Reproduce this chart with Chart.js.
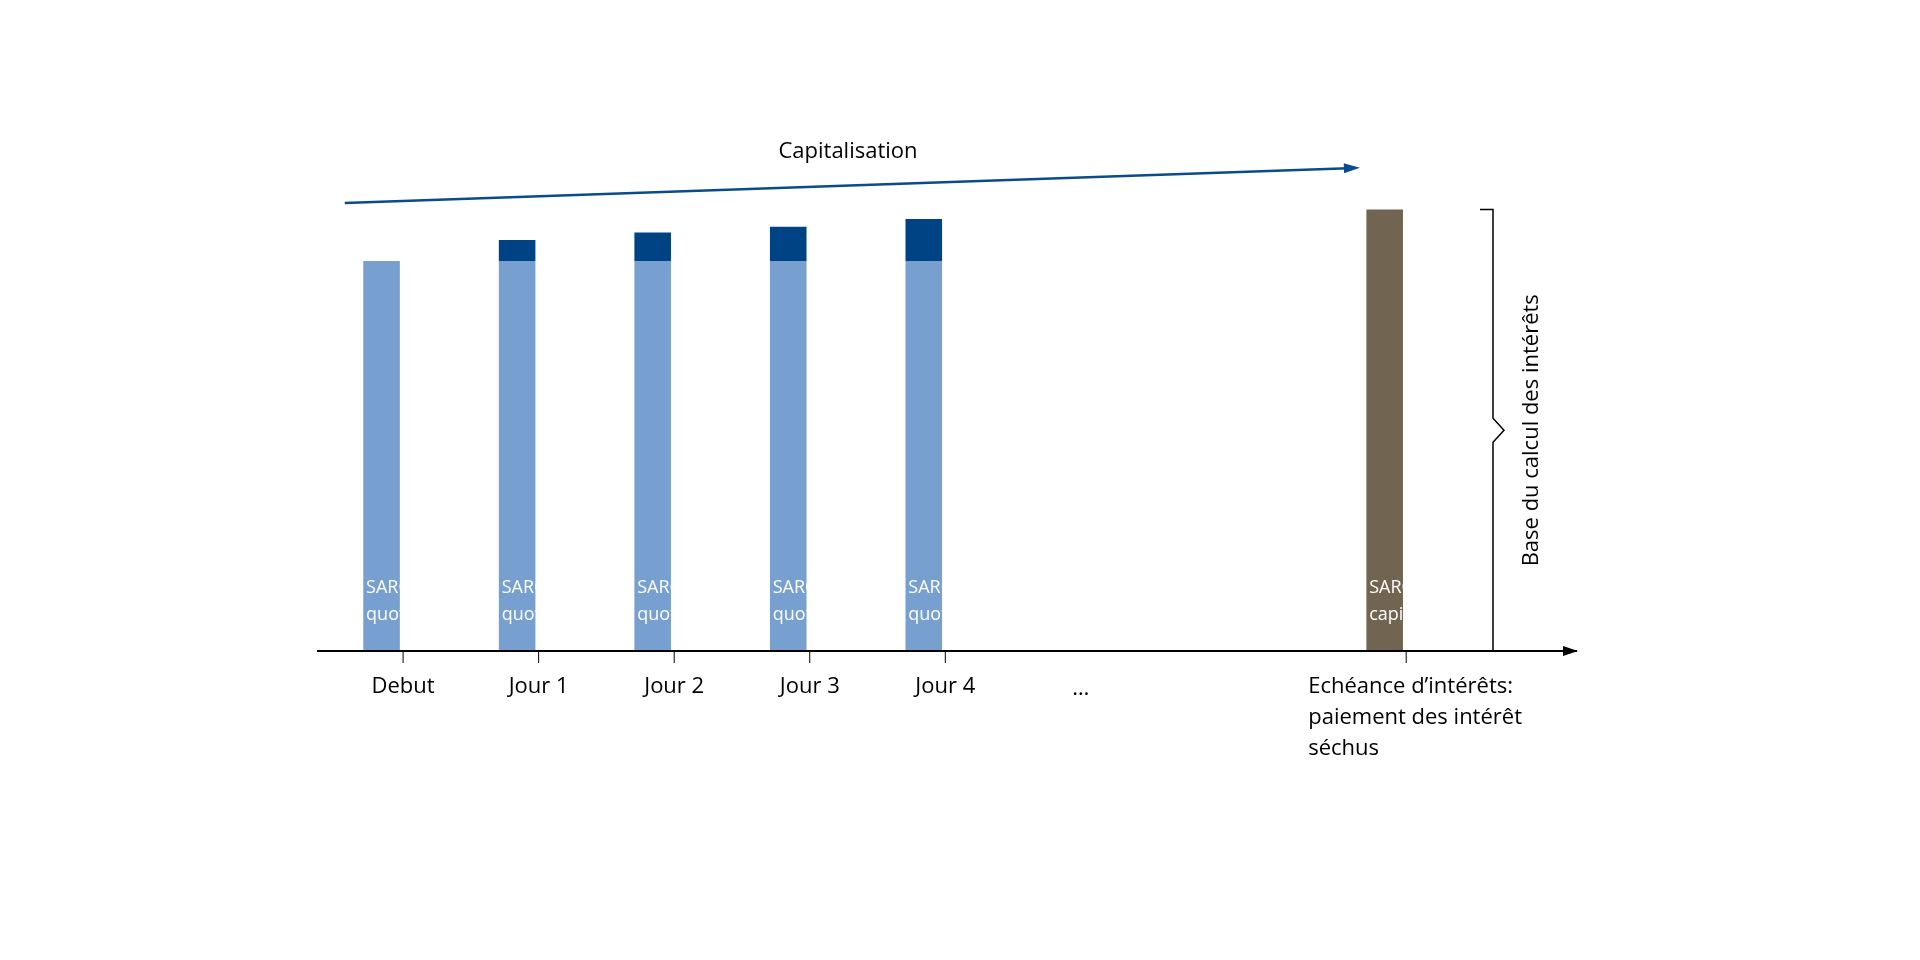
<!DOCTYPE html>
<html>
<head>
<meta charset="utf-8">
<script src="https://cdn.jsdelivr.net/npm/chart.js@4"></script>
<style>
  body { margin: 0; background: #fff; }
  #wrap { width: 1920px; height: 960px; }
</style>
</head>
<body>
<div id="wrap"><canvas id="c" width="1920" height="960"></canvas></div>
<script>
// category positions on the time axis (the last one sits after the gap)
var positions = [0, 1, 2, 3, 4, 7.4];
var tickLabels = ['Debut', 'Jour 1', 'Jour 2', 'Jour 3', 'Jour 4', 'Echéance d’intérêts:|paiement des intérêt|séchus'];
var dailyBase = [100, 100, 100, 100, 100];
var dailyInterest = [0, 5.4, 7.3, 8.8, 10.8];
var capitalised = [113.2];
var capArrow = [{ x: -0.43, y: 114.9 }, { x: 6.97, y: 123.8 }];
var barLabels = ['SARON|quotidien', 'SARON|quotidien', 'SARON|quotidien', 'SARON|quotidien', 'SARON|quotidien', 'SARON|capitalisé'];

var FONT = '"Open Sans", "Noto Sans", sans-serif';

var decorPlugin = {
  id: 'decor',
  afterDatasetsDraw: function(chart) {
    var ctx = chart.ctx;
    var xs = chart.scales.x, ys = chart.scales.y;
    var base = ys.getPixelForValue(0);
    ctx.save();

    // axis line with arrow
    ctx.strokeStyle = '#000';
    ctx.fillStyle = '#000';
    ctx.lineWidth = 2;
    ctx.beginPath();
    ctx.moveTo(chart.chartArea.left, base);
    ctx.lineTo(chart.chartArea.right, base);
    ctx.stroke();
    ctx.beginPath();
    ctx.moveTo(chart.chartArea.right + 1, base);
    ctx.lineTo(chart.chartArea.right - 14, base - 5);
    ctx.lineTo(chart.chartArea.right - 14, base + 5);
    ctx.closePath();
    ctx.fill();

    // ticks and labels
    ctx.lineWidth = 1;
    ctx.font = '22px ' + FONT;
    ctx.textBaseline = 'middle';
    for (var i = 0; i < positions.length; i++) {
      var px = xs.getPixelForValue(positions[i]);
      ctx.beginPath();
      ctx.moveTo(px, base);
      ctx.lineTo(px, base + 12);
      ctx.stroke();
      var lines = tickLabels[i].split('|');
      if (lines.length > 1) {
        ctx.textAlign = 'left';
        for (var j = 0; j < lines.length; j++) ctx.fillText(lines[j], px - 98, 687 + j * 31);
      } else {
        ctx.textAlign = 'center';
        ctx.fillText(lines[0], px, 687);
      }
    }
    ctx.textAlign = 'center';
    ctx.fillText('…', xs.getPixelForValue(5), 689);

    // white labels inside bars
    ctx.fillStyle = '#fff';
    ctx.font = '18px ' + FONT;
    ctx.textAlign = 'left';
    for (var k = 0; k < positions.length; k++) {
      var bx = xs.getPixelForValue(positions[k]) - 57 + 20;
      var bl = barLabels[k].split('|');
      ctx.fillText(bl[0], bx, 588);
      ctx.fillText(bl[1], bx, 615);
    }

    // arrow head for capitalisation line
    var a0 = capArrow[0], a1 = capArrow[1];
    var x0 = xs.getPixelForValue(a0.x), y0 = ys.getPixelForValue(a0.y);
    var x1 = xs.getPixelForValue(a1.x), y1 = ys.getPixelForValue(a1.y);
    var ang = Math.atan2(y1 - y0, x1 - x0);
    ctx.fillStyle = '#0B4A8B';
    ctx.beginPath();
    ctx.moveTo(x1 + 12 * Math.cos(ang), y1 + 12 * Math.sin(ang));
    ctx.lineTo(x1 - 4 * Math.cos(ang) + 5 * Math.sin(ang), y1 - 4 * Math.sin(ang) - 5 * Math.cos(ang));
    ctx.lineTo(x1 - 4 * Math.cos(ang) - 5 * Math.sin(ang), y1 - 4 * Math.sin(ang) + 5 * Math.cos(ang));
    ctx.closePath();
    ctx.fill();
    ctx.fillStyle = '#000';
    ctx.font = '22px ' + FONT;
    ctx.textAlign = 'center';
    ctx.fillText('Capitalisation', 848, 152);

    // brace for the capitalised bar
    var top = ys.getPixelForValue(capitalised[0]);
    var bxr = 1493, mid = (top + base) / 2;
    ctx.strokeStyle = '#000';
    ctx.lineWidth = 1.5;
    ctx.beginPath();
    ctx.moveTo(1480, top);
    ctx.lineTo(bxr, top);
    ctx.lineTo(bxr, mid - 12);
    ctx.lineTo(bxr + 11, mid);
    ctx.lineTo(bxr, mid + 12);
    ctx.lineTo(bxr, base);
    ctx.stroke();
    ctx.translate(1532, mid);
    ctx.rotate(-Math.PI / 2);
    ctx.fillText('Base du calcul des intérêts', 0, 0);
    ctx.restore();
  }
};

new Chart(document.getElementById('c').getContext('2d'), {
  data: {
    datasets: [
      {
        type: 'bar', label: 'SARON quotidien', stack: 'a',
        data: dailyBase.map(function(v, i) { return { x: positions[i], y: v }; }),
        backgroundColor: '#779FCF', barPercentage: 0.85, categoryPercentage: 1
      },
      {
        type: 'bar', label: 'Intérêts', stack: 'a',
        data: dailyInterest.map(function(v, i) { return { x: positions[i], y: v }; }),
        backgroundColor: '#004384', barPercentage: 0.85, categoryPercentage: 1
      },
      {
        type: 'bar', label: 'SARON capitalisé', stack: 'a',
        data: capitalised.map(function(v) { return { x: positions[5], y: v }; }),
        backgroundColor: '#716450', barPercentage: 0.85, categoryPercentage: 1
      },
      {
        type: 'line', label: 'Capitalisation', stack: 'line', xAxisID: 'x2',
        data: capArrow, borderColor: '#0B4A8B', borderWidth: 2.5,
        pointRadius: 0, fill: false
      }
    ]
  },
  options: {
    responsive: false,
    animation: false,
    layout: { padding: { left: 317, right: 343, top: 105, bottom: 309 } },
    plugins: { legend: { display: false }, tooltip: { enabled: false } },
    scales: {
      x: { type: 'linear', min: -0.635, max: 8.66, offset: false, stacked: true, display: false },
      x2: { type: 'linear', min: -0.635, max: 8.66, offset: false, display: false },
      y: { min: 0, max: 140, stacked: true, display: false }
    }
  },
  plugins: [decorPlugin]
});
</script>
</body>
</html>
